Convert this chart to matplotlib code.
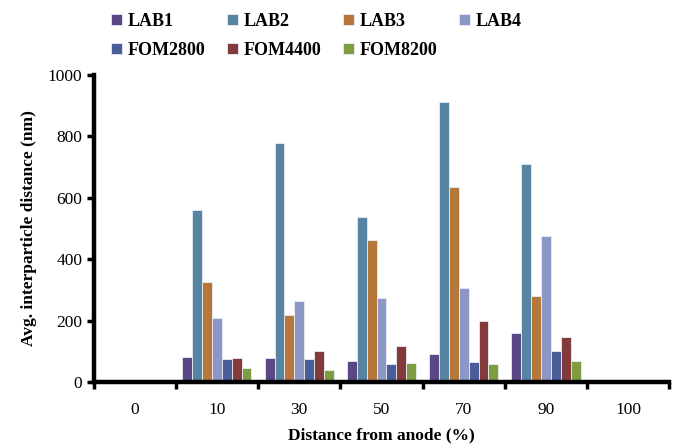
import numpy as np
import matplotlib.pyplot as plt

categories = ['0', '10', '30', '50', '70', '90', '100']
series = ['LAB1', 'LAB2', 'LAB3', 'LAB4', 'FOM2800', 'FOM4400', 'FOM8200']
LAB1 = [0, 82, 77, 68, 93, 160, 0]
LAB2 = [0, 560, 778, 538, 910, 710, 0]
LAB3 = [0, 327, 218, 462, 635, 280, 0]
LAB4 = [0, 210, 263, 273, 305, 475, 0]
FOM2800 = [0, 75, 76, 58, 65, 102, 0]
FOM4400 = [0, 80, 100, 117, 198, 148, 0]
FOM8200 = [0, 45, 38, 63, 58, 68, 0]
values = [LAB1, LAB2, LAB3, LAB4, FOM2800, FOM4400, FOM8200]
colors = ['#5B4785', '#5784A0', '#B6783A', '#8D97C6', '#4A5E9A', '#833A3A', '#7E9C40']

plt.rcParams['font.family'] = ['Liberation Serif', 'DejaVu Serif']

fig = plt.figure(figsize=(6.83, 4.48), dpi=100)
ax = fig.add_axes([0.137, 0.147, 0.843, 0.686])

x = np.arange(len(categories))
w = 0.12
handles = {}
for i, (name, vals, c) in enumerate(zip(series, values, colors)):
    b = ax.bar(x + (i - 3) * w, vals, w, color=c, edgecolor='#E8ECF4', linewidth=0.6, label=name)
    handles[name] = b

ax.set_xlim(-0.5, len(categories) - 0.5)
ax.set_ylim(0, 1000)
ax.set_yticks(range(0, 1001, 200))
ax.set_xticks(x)
ax.set_xticklabels(categories)
ax.set_xticks(np.arange(-0.5, len(categories), 1), minor=True)
ax.tick_params(axis='x', which='major', length=0, labelsize=12.5, pad=14)
ax.tick_params(axis='x', which='minor', length=5, width=2.5, direction='out')
ax.tick_params(axis='y', length=5, width=2.5, direction='out', labelsize=12.5, pad=3)

for s in ['top', 'right']:
    ax.spines[s].set_visible(False)
for s in ['left', 'bottom']:
    ax.spines[s].set_linewidth(3.2)

ax.set_xlabel('Distance from anode (%)', fontsize=12.5, fontweight='bold', labelpad=7)
ax.set_ylabel('Avg. interparticle distance (nm)', fontsize=12.5, fontweight='bold', labelpad=8)

# reorder so the legend fills row-wise: LABs on top, FOMs below
order = ['LAB1', 'FOM2800', 'LAB2', 'FOM4400', 'LAB3', 'FOM8200', 'LAB4']
leg = fig.legend([handles[n] for n in order], order, ncol=4, frameon=False,
                 loc='upper left', bbox_to_anchor=(0.139, 1.007),
                 prop={'weight': 'bold', 'size': 13}, handlelength=0.6, handleheight=0.6,
                 handletextpad=0.3, columnspacing=1.22, labelspacing=0.65)

fig.savefig('out.png', dpi=100)
